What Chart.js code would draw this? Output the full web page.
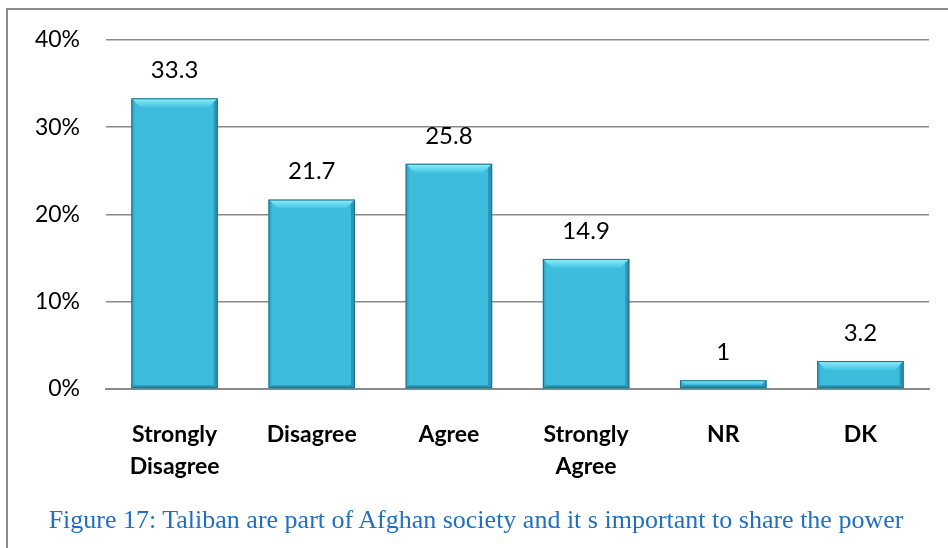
<!DOCTYPE html>
<html>
<head>
<meta charset="utf-8">
<script src="https://cdn.jsdelivr.net/npm/chart.js@4.4.0/dist/chart.umd.min.js"></script>
<style>
  html, body { margin: 0; padding: 0; background: #fff; overflow: hidden; }
  #wrap { position: relative; width: 948px; height: 548px; }
  #frame { position: absolute; left: 6px; top: 8px; width: 1000px; height: 600px; border: 2px solid #8a8a8a; box-sizing: border-box; }
  #chart { position: absolute; left: 0; top: 0; }
  #caption { position: absolute; left: 0; width: 952px; top: 505px; text-align: center; line-height: 30px;
    font-family: "Liberation Serif", "Times New Roman", serif; font-size: 26px; color: #1f6fc4; white-space: nowrap; }
</style>
</head>
<body>
<div id="wrap">
  <div id="frame"></div>
  <canvas id="chart" width="948" height="548"></canvas>
  <div id="caption">Figure 17: Taliban are part of Afghan society and it s important to share the power</div>
</div>
<script>
var categories = [["Strongly", "Disagree"], "Disagree", "Agree", ["Strongly", "Agree"], "NR", "DK"];
var values = [33.3, 21.7, 25.8, 14.9, 1, 3.2];
var yTicks = [0, 10, 20, 30, 40];

// bevel look on the bars, drawn on top of the plain fill
var bevelPlugin = {
    id: 'bevel',
    afterDatasetsDraw: function(chart) {
        var c = chart.ctx;
        chart.getDatasetMeta(0).data.forEach(function(bar) {
            var l = bar.x - bar.width / 2, r = bar.x + bar.width / 2;
            var t = bar.y, b = bar.base;
            var h = b - t;
            var bv = Math.min(9, h / 2);
            c.save();
            // top face
            var g = c.createLinearGradient(0, t, 0, t + bv);
            g.addColorStop(0, '#8ef0fb');
            g.addColorStop(1, '#45c3e3');
            c.fillStyle = g;
            c.beginPath();
            c.moveTo(l, t); c.lineTo(r, t); c.lineTo(r - bv, t + bv); c.lineTo(l + bv, t + bv);
            c.closePath(); c.fill();
            // right face
            c.fillStyle = '#2a95b4';
            c.beginPath();
            c.moveTo(r, t); c.lineTo(r, b); c.lineTo(r - 4, b - 3); c.lineTo(r - 4, t + Math.min(4, h / 2));
            c.closePath(); c.fill();
            // left face
            c.fillStyle = '#36aacb';
            c.beginPath();
            c.moveTo(l, t); c.lineTo(l, b); c.lineTo(l + 3, b - 3); c.lineTo(l + 3, t + Math.min(3, h / 2));
            c.closePath(); c.fill();
            // bottom face
            c.fillStyle = '#2890ae';
            c.beginPath();
            c.moveTo(l, b); c.lineTo(r, b); c.lineTo(r - 4, b - 3); c.lineTo(l + 3, b - 3);
            c.closePath(); c.fill();
            // outline
            c.strokeStyle = '#1d6f86';
            c.lineWidth = 1;
            c.strokeRect(l + 0.5, t + 0.5, bar.width - 1, h - 1);
            c.restore();
        });
    }
};

var labelPlugin = {
    id: 'valueLabels',
    afterDatasetsDraw: function(chart) {
        var c = chart.ctx;
        var ds = chart.data.datasets[0];
        c.save();
        c.font = '24px Lato, "Open Sans", sans-serif';
        c.fillStyle = '#000';
        c.textAlign = 'center';
        c.textBaseline = 'middle';
        chart.getDatasetMeta(0).data.forEach(function(bar, i) {
            c.fillText(String(ds.data[i]), bar.x, bar.y - 28);
        });
        c.restore();
    }
};

var ctx = document.getElementById('chart').getContext('2d');
var chart = new Chart(ctx, {
    type: 'bar',
    data: {
        labels: categories,
        datasets: [{
            data: values,
            backgroundColor: '#3dbcde',
            borderWidth: 0,
            categoryPercentage: 1,
            barPercentage: 0.63
        }]
    },
    options: {
        responsive: false,
        animation: false,
        events: [],
        layout: { padding: { left: 0, right: 19, top: 39, bottom: 0 } },
        plugins: { legend: { display: false }, tooltip: { enabled: false } },
        scales: {
            y: {
                min: 0, max: 40,
                afterBuildTicks: function(s) { s.ticks = yTicks.map(function(v) { return { value: v }; }); },
                afterFit: function(s) { s.width = 106; },
                border: { display: false },
                grid: { color: '#8a8a8a', lineWidth: 1.5, drawTicks: false },
                ticks: {
                    padding: 26,
                    color: '#000',
                    font: { family: 'Lato, "Open Sans", sans-serif', size: 23 },
                    callback: function(v) { return v + '%'; }
                }
            },
            x: {
                afterFit: function(s) { s.height = 548 - 389; },
                border: { color: '#8a8a8a', width: 2 },
                grid: { display: false },
                ticks: {
                    padding: 21,
                    color: '#000',
                    font: { family: 'Lato, "Open Sans", sans-serif', size: 23, weight: 'bold', lineHeight: 1.4 },
                    maxRotation: 0
                }
            }
        }
    },
    plugins: [bevelPlugin, labelPlugin]
});
</script>
</body>
</html>
